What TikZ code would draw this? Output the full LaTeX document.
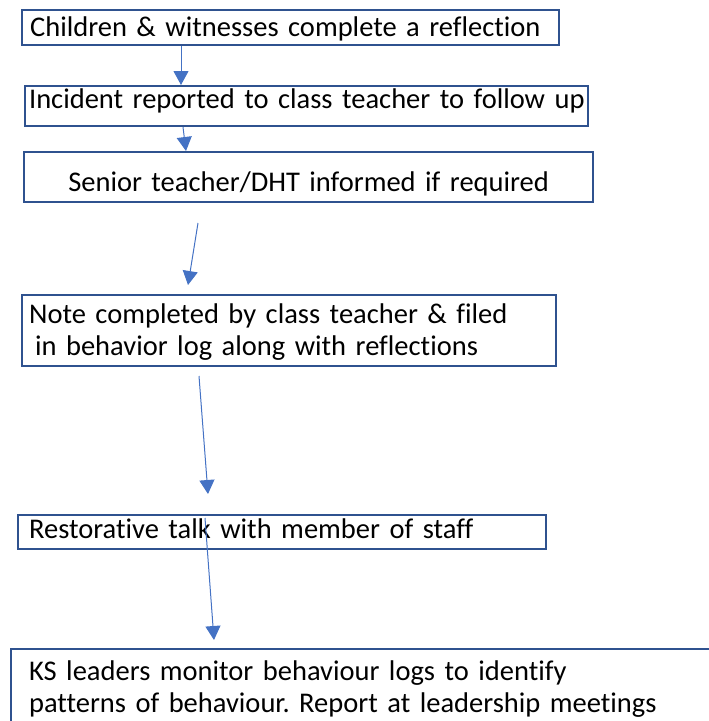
\documentclass[tikz,border=0pt]{standalone}
\usepackage{fontspec}
\setmainfont{Carlito}[Ligatures=NoCommon]
\usetikzlibrary{arrows.meta}
\definecolor{boxblue}{HTML}{2F528F}
\definecolor{arrowblue}{HTML}{4472C4}
\frenchspacing
\tikzset{
  stagebox/.style={draw=boxblue, line width=2.2pt, anchor=north west, align=left,
    inner ysep=2pt, font=\fontsize{28.5}{32}\selectfont},
  flow/.style={draw=arrowblue, line width=1pt, -{Triangle[width=15pt,length=14pt]}}
}
\begin{document}
\begin{tikzpicture}[x=1pt,y=-1pt]
  \useasboundingbox (0,0) rectangle (709,721);
  \clip (0,0) rectangle (709,721);

  \begin{scope}[every node/.style={stagebox}]
    \node[inner xsep=8pt, text width=521pt, text height=24pt, text depth=7pt] (reflect) at (21,9)
      {\mbox{Children \& witnesses complete a reflection}};
    \node[inner xsep=4pt, text width=555pt, text height=20pt, text depth=16pt] (incident) at (24,85)
      {\mbox{Incident reported to class teacher to follow up}};
    \node[inner xsep=4pt, text width=561pt, text height=37pt, text depth=9pt, align=center] (senior) at (23,151)
      {\mbox{Senior teacher/DHT informed if required}};
    \node[inner xsep=7pt, text width=520pt, text height=26pt, text depth=41pt] (note) at (21,294)
      {Note completed by class teacher \& filed\\\hspace*{6pt}in behavior log along with reflections};
    \node[inner xsep=11pt, text width=506pt, text height=21pt, text depth=9pt] (talk) at (17,514)
      {\mbox{Restorative talk with member of staff}};
    \node[inner xsep=18pt, text width=694pt, text height=29pt, text depth=90pt] (monitor) at (10,648)
      {KS leaders monitor behaviour logs to identify\\patterns of behaviour. Report at leadership meetings};
  \end{scope}

  % free ends of the longer arrows
  \coordinate (tail3) at (198,223);
  \coordinate (tip3)  at (188,285);
  \coordinate (tail4) at (199,376);
  \coordinate (tip4)  at (208,494);
  \coordinate (tail5) at (205,518);
  \coordinate (tip5)  at (214,640);

  \draw[flow] ([xshift=160pt]reflect.south west) -- ([xshift=157pt]incident.north west);
  \draw[flow] ([xshift=159pt]incident.south west) -- ([xshift=163pt]senior.north west);
  \draw[flow] (tail3) -- (tip3);
  \draw[flow] (tail4) -- (tip4);
  \draw[flow] (tail5) -- (tip5);

\end{tikzpicture}
\end{document}
